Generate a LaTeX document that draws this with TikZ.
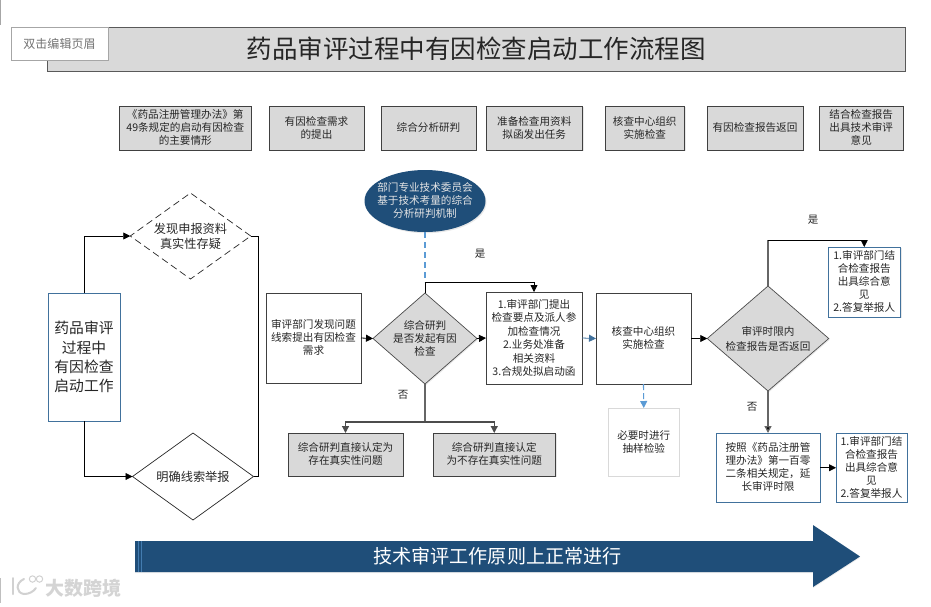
\documentclass[tikz,border=0pt]{standalone}
\usepackage{fontspec}
\setmainfont{Noto Sans CJK SC}
\usetikzlibrary{shapes.geometric,arrows.meta,shadows}
\newsavebox{\zbox}
\newcommand{\zt}[2][0pt]{\sbox{\zbox}{\begin{tabular}{@{}c@{}}#2\end{tabular}}\makebox[0pt][c]{\raisebox{\dimexpr #1-.5\ht\zbox+.5\dp\zbox-.13em\relax}[0pt][0pt]{\usebox{\zbox}}}}
\newcommand{\fs}[2]{\fontsize{#1}{#2}\selectfont}
\definecolor{navy}{HTML}{1F4E79}
\definecolor{paleblue}{HTML}{5B9BD5}
\definecolor{steel}{HTML}{41719C}
\tikzset{
  soft/.style={drop shadow={opacity=.18,shadow xshift=1pt,shadow yshift=-1.2pt}},
  base/.style={inner sep=0pt,outer sep=0pt,text=black!85,font=\fs{10.6}{13}},
  graybox/.style={base,rectangle,draw=black!75,line width=1pt,fill=black!15,soft},
  whitebox/.style={base,rectangle,draw=black!75,line width=1pt,fill=white,soft},
  bluebox/.style={base,rectangle,draw=steel,line width=.9pt,fill=white,soft},
  palebox/.style={base,rectangle,draw=black!15,line width=.9pt,fill=white,soft},
  dia/.style={base,diamond,draw=black!85,line width=.7pt,fill=white},
  graydia/.style={base,diamond,draw=black!70,line width=.7pt,fill=black!15,soft},
  arr/.style={line width=.8pt,draw=black,-{Triangle[length=7pt,width=7pt]}},
  line/.style={line width=.8pt,draw=black},
  thickgray/.style={line width=1.3pt,draw=black!60},
  lab/.style={base,font=\fs{10.5}{13}},
}
\begin{document}
\begin{tikzpicture}[x=1pt,y=-1pt]
\useasboundingbox (0,0) rectangle (931,606);
% title
\node[graybox,draw=black!65,minimum width=858pt,minimum height=44pt,font=\fs{25.5}{30}] (title) at (476,49) {\zt{药品审评过程中有因检查启动工作流程图}};
\node[base,rectangle,draw=black!35,line width=.7pt,fill=white,minimum width=97pt,minimum height=33pt,text=black!55,font=\fs{12}{14}] (hdr) at (59.5,43.5) {\zt{双击编辑页眉}};
% top row
\foreach \n/\cx/\w/\t in {
  t1/185.25/131.5/{《药品注册管理办法》第\\49条规定的启动有因检查\\的主要情形},
  t2/316.5/95/{有因检查需求\\的提出},
  t3/428.5/95/{综合分析研判},
  t4/534.25/96.5/{准备检查用资料\\拟函发出任务},
  t5/644.75/79.5/{核查中心组织\\实施检查},
  t6/755/96/{有因检查报告返回},
  t7/861.25/83.5/{结合检查报告\\出具技术审评\\意见}}{
  \node[graybox,minimum width=\w pt,minimum height=44pt] (\n) at (\cx,128) {\zt{\t}};
}
% ellipse
\node[base,ellipse,fill=navy,minimum width=121pt,minimum height=62pt,text=white!90!black,soft] (mech) at (425,201) {\zt{部门专业技术委员会\\基于技术考量的综合\\分析研判机制}};
% left column
\node[bluebox,minimum width=72pt,minimum height=128pt,font=\fs{14.8}{19.4}] (start) at (84,357) {\zt{药品审评\\过程中\\有因检查\\启动工作}};
\node[dia,dashed,dash pattern=on 7pt off 4pt,minimum width=120.5pt,minimum height=86pt,font=\fs{12.2}{15}] (fake) at (190.5,236) {\zt{发现申报资料\\真实性存疑}};
\node[dia,minimum width=121pt,minimum height=87pt,font=\fs{12.2}{15}] (clue) at (193,476.5) {\zt{明确线索举报}};
% middle
\node[whitebox,minimum width=95pt,minimum height=90pt] (need) at (313.5,338) {\zt{审评部门发现问题\\线索提出有因检查\\需求}};
\node[graydia,minimum width=104pt,minimum height=91pt] (judge) at (425,338.5) {\zt{综合研判\\是否发起有因\\检查}};
\node[whitebox,minimum width=96pt,minimum height=92pt,font=\fs{10.6}{13.4}] (prep) at (534,338) {\zt{1.审评部门提出\\检查要点及派人参\\加检查情况\\2.业务处准备\\相关资料\\3.合规处拟启动函}};
\node[whitebox,minimum width=95pt,minimum height=91pt] (check) at (643.5,338.5) {\zt{核查中心组织\\实施检查}};
\node[graydia,minimum width=121.5pt,minimum height=105pt,font=\fs{10.6}{15}] (time) at (768,338.5) {\zt{审评时限内\\检查报告是否返回}};
\node[graybox,minimum width=115pt,minimum height=43pt] (yes1) at (345.5,454.5) {\zt{综合研判直接认定为\\存在真实性问题}};
\node[graybox,minimum width=122.5pt,minimum height=43pt] (no1) at (494.25,454.5) {\zt{综合研判直接认定\\为不存在真实性问题}};
\node[palebox,minimum width=70.5pt,minimum height=68pt] (sample) at (643.75,442) {\zt{必要时进行\\抽样检验}};
% right
\node[bluebox,minimum width=72.5pt,minimum height=70pt] (r1) at (864.25,282) {\zt{1.审评部门结\\合检查报告\\出具综合意\\见\\2.答复举报人}};
\node[bluebox,minimum width=104pt,minimum height=69pt] (ext) at (768,467.5) {\zt{按照《药品注册管\\理办法》第一百零\\二条相关规定，延\\长审评时限}};
\node[bluebox,minimum width=71pt,minimum height=68.5pt] (r2) at (871.5,467.75) {\zt{1.审评部门结\\合检查报告\\出具综合意\\见\\2.答复举报人}};
% junctions
\coordinate (jfake) at (258,236);
\coordinate (jbottom) at (258,476.5);
\coordinate (jtop) at (425,282);
\coordinate (jno) at (425,422);
\coordinate (jyes) at (768,240);
% connectors
\draw[arr] (start.north) |- (fake.west);
\draw[arr] (start.south) |- (clue.west);
\draw[line] (fake.east) -- (jfake) -- (jbottom) -- (clue.east);
\draw[arr] (need.east) -- (judge.west);
\draw[arr] (judge.east) -- (prep.west);
\draw[line width=.8pt,draw=steel,-{Triangle[length=7pt,width=7pt]}] (prep.east) -- (check.west);
\draw[arr] (check.east) -- (time.west);
\draw[line width=1.1pt,draw=paleblue,dash pattern=on 6pt off 4pt] (mech.south) -- (jtop);
\draw[line] (judge.north) -- (jtop);
\draw[arr] (jtop) -| (prep.north);
\draw[thickgray] (judge.south) -- (jno);
\draw[arr,line width=1.2pt,draw=black!70] (jno) -| (yes1.north);
\draw[arr,line width=1.2pt,draw=black!70] (jno) -| (no1.north);
\draw[line width=1.1pt,draw=paleblue,dash pattern=on 6pt off 3pt,-{Triangle[length=7pt,width=7pt]}] (check.south) -- (sample.north);
\draw[line width=1.2pt,draw=black!60] (time.north) -- (jyes);
\draw[arr] (jyes) -| (r1.north);
\draw[thickgray,-{Triangle[length=7pt,width=7pt,fill=black]}] (time.south) -- (ext.north);
\draw[arr] (ext.east |- r2.west) -- (r2.west);
% labels
\node[lab] (y1) at (480,254) {是};
\node[lab] (n1) at (403,395) {否};
\node[lab] (y2) at (813,220) {是};
\node[lab] (n2) at (752,407) {否};
% big arrow
\fill[navy,drop shadow={opacity=.15,shadow xshift=0pt,shadow yshift=-1.2pt}] (135,541) -- (813,541) -- (813,525) -- (860,556.5) -- (813,587) -- (813,572) -- (135,572) -- cycle;
\fill[paleblue!60!navy] (137.5,541) rectangle (138.3,572);
\fill[paleblue!60!navy] (140.5,541) rectangle (141.3,572);
\node[base,text=white,font=\fs{19.1}{22}] (flow) at (497.5,556) {\zt{技术审评工作原则上正常进行}};
% watermark and scan edges
\fill[black!35] (0,0) rectangle (.8,25);
\fill[black!25] (0,578) rectangle (.8,603);
\draw[black!18,line width=2pt,line cap=round] (13,578) -- (13,594);
\draw[black!18,line width=2pt,line cap=round] (24,579) .. controls (15,583) and (16,593) .. (24,594) .. controls (29,594) and (33,592) .. (36,588);
\draw[black!18,line width=1pt] (32.5,579) circle (3.2pt);
\draw[black!18,line width=1pt] (39.5,579) circle (3.2pt);
\node[base,text=black!17,font=\bfseries\fs{19}{22}] (mark) at (83.5,588.5) {\zt{大数跨境}};
\end{tikzpicture}
\end{document}
